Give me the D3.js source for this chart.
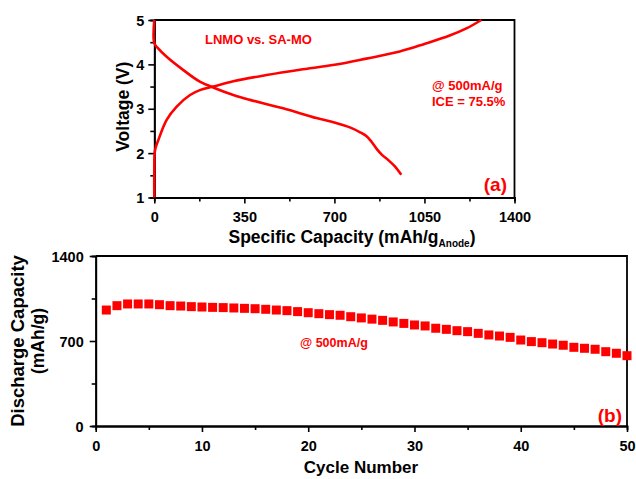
<!DOCTYPE html>
<html><head><meta charset="utf-8">
<script src="https://cdn.jsdelivr.net/npm/d3@7"></script>
<style>
html,body{margin:0;padding:0;background:#fff;}
svg text{font-family:"Liberation Sans",Arial,sans-serif;font-weight:bold;}
</style></head>
<body>
<svg id="c" width="636" height="479"></svg>
<script>
// ---- Panel (a) data: charge / discharge voltage profiles ----
const chargeCap = [0, 0, 3, 16, 48, 87, 139, 177, 229, 307, 436, 566, 701, 824, 954, 1050, 1148, 1213, 1271];
const chargeV   = [1.0, 1.6, 2.07, 2.3, 2.75, 3.05, 3.31, 3.42, 3.5, 3.62, 3.76, 3.88, 3.99, 4.13, 4.29, 4.46, 4.65, 4.81, 5.0];
const dischargeCap = [0, 0, 15, 48, 113, 177, 229, 307, 372, 501, 630, 700, 760, 800, 825, 845, 865, 885, 910, 935, 960];
const dischargeV   = [5.0, 4.48, 4.36, 4.17, 3.87, 3.61, 3.48, 3.31, 3.2, 3.01, 2.79, 2.69, 2.58, 2.47, 2.38, 2.25, 2.09, 1.96, 1.84, 1.70, 1.51];
const capTicks = [0, 350, 700, 1050, 1400];
const voltTicks = [1, 2, 3, 4, 5];

// ---- Panel (b) data: discharge capacity vs cycle ----
const cycles = d3.range(1, 51);
const dischargeCapacity = [955, 991, 1005, 1005, 1005, 999, 991, 988, 983, 980,
  977, 975, 972, 969, 966, 961, 955, 950, 942, 933,
  925, 917, 912, 900, 890, 880, 870, 857, 845, 832,
  824, 805, 796, 785, 777, 763, 750, 741, 730, 708,
  695, 686, 675, 665, 648, 640, 632, 612, 599, 579];
const cycleTicks = [0, 10, 20, 30, 40, 50];
const capYTicks = [0, 700, 1400];

const RED = "#ff0000";
const svg = d3.select("#c");

function styleAxis(g){
  g.select(".domain").attr("stroke","#000").attr("stroke-width",1.8);
  g.selectAll(".tick line").attr("stroke","#000").attr("stroke-width",1.6);
  g.selectAll("text").attr("fill","#000").style("font-size","14.5px").style("font-weight","bold");
}

// ===== Panel (a) =====
const A = {l:154.3, r:514.5, t:20, b:197.5};
const xa = d3.scaleLinear().domain([0,1400]).range([A.l, A.r]);
const ya = d3.scaleLinear().domain([1,5]).range([A.b, A.t]);
const ga = svg.append("g");

ga.append("path").attr("d",`M${A.l},${A.t}H${A.r}V${A.b}`).attr("fill","none").attr("stroke","#000").attr("stroke-width",1.8);

const gxaMinor = ga.append("g").attr("transform",`translate(0,${A.b})`)
  .call(d3.axisBottom(xa).tickValues(d3.range(175,1400,350)).tickSize(4).tickFormat(""));
styleAxis(gxaMinor);
const gxa = ga.append("g").attr("transform",`translate(0,${A.b})`)
  .call(d3.axisBottom(xa).tickValues(capTicks).tickSize(6).tickSizeOuter(0).tickPadding(8).tickFormat(d3.format("d")));
styleAxis(gxa);
const gyaMinor = ga.append("g").attr("transform",`translate(${A.l},0)`)
  .call(d3.axisLeft(ya).tickValues([1.5,2.5,3.5,4.5]).tickSize(4).tickFormat(""));
styleAxis(gyaMinor);
const gya = ga.append("g").attr("transform",`translate(${A.l},0)`)
  .call(d3.axisLeft(ya).tickValues(voltTicks).tickSize(6).tickSizeOuter(0).tickPadding(4).tickFormat(d3.format("d")));
styleAxis(gya);
gya.selectAll("text").attr("dy","0.36em");

const lineA = d3.line().x(d=>xa(d[0])).y(d=>ya(d[1])).curve(d3.curveCatmullRom.alpha(0.5));
ga.append("path").datum(chargeCap.map((c,i)=>[c,chargeV[i]]))
  .attr("d", lineA).attr("fill","none").attr("stroke",RED).attr("stroke-width",2.6);
ga.append("path").datum(dischargeCap.map((c,i)=>[c,dischargeV[i]]))
  .attr("d", lineA).attr("fill","none").attr("stroke",RED).attr("stroke-width",2.6);

ga.append("text").attr("x",205).attr("y",44).attr("fill",RED).style("font-size","13px").text("LNMO vs. SA-MO");
ga.append("text").attr("x",432).attr("y",90).attr("fill",RED).style("font-size","13px").text("@ 500mA/g");
ga.append("text").attr("x",432).attr("y",106).attr("fill",RED).style("font-size","13px").text("ICE = 75.5%");
ga.append("text").attr("x",507).attr("y",191).attr("text-anchor","end").attr("fill",RED).style("font-size","19px").text("(a)");

ga.append("text").attr("transform",`translate(129,${(A.t+A.b)/2 - 2}) rotate(-90)`)
  .attr("text-anchor","middle").style("font-size","17.5px").text("Voltage (V)");
const xt = ga.append("text").attr("x",352).attr("y",243).attr("text-anchor","middle").style("font-size","17.5px");
xt.append("tspan").text("Specific Capacity (mAh/g");
xt.append("tspan").attr("dy",4).style("font-size","10px").text("Anode");
xt.append("tspan").attr("dy",-4).text(")");

// ===== Panel (b) =====
const B = {l:95.7, r:627, t:256, b:426};
const xb = d3.scaleLinear().domain([0,50]).range([B.l, B.r]);
const yb = d3.scaleLinear().domain([0,1400]).range([B.b, B.t]);
const gb = svg.append("g");

gb.append("path").attr("d",`M${B.l},${B.t}H${B.r}V${B.b}`).attr("fill","none").attr("stroke","#000").attr("stroke-width",1.8);
const gxbMinor = gb.append("g").attr("transform",`translate(0,${B.b})`)
  .call(d3.axisBottom(xb).tickValues(d3.range(5,50,10)).tickSize(4).tickFormat(""));
styleAxis(gxbMinor);
const gxb = gb.append("g").attr("transform",`translate(0,${B.b})`)
  .call(d3.axisBottom(xb).tickValues(cycleTicks).tickSize(6).tickSizeOuter(0).tickPadding(9).tickFormat(d3.format("d")));
styleAxis(gxb);
const gybMinor = gb.append("g").attr("transform",`translate(${B.l},0)`)
  .call(d3.axisLeft(yb).tickValues([350,1050]).tickSize(4).tickFormat(""));
styleAxis(gybMinor);
const gyb = gb.append("g").attr("transform",`translate(${B.l},0)`)
  .call(d3.axisLeft(yb).tickValues(capYTicks).tickSize(6).tickSizeOuter(0).tickPadding(6).tickFormat(d3.format("d")));
styleAxis(gyb);
gyb.selectAll("text").attr("dy","0.36em");

const ms = 9;
gb.append("g").selectAll("rect").data(cycles.map((c,i)=>[c,dischargeCapacity[i]])).join("rect")
  .attr("x",d=>xb(d[0])-ms/2).attr("y",d=>yb(d[1])-ms/2).attr("width",ms).attr("height",ms).attr("fill",RED);

gb.append("text").attr("x",300).attr("y",347).attr("fill",RED).style("font-size","12.5px").text("@ 500mA/g");
gb.append("text").attr("x",622).attr("y",422).attr("text-anchor","end").attr("fill",RED).style("font-size","19px").text("(b)");

gb.append("text").attr("transform",`translate(24,${(B.t+B.b)/2}) rotate(-90)`)
  .attr("text-anchor","middle").style("font-size","18.5px").text("Discharge Capacity");
gb.append("text").attr("transform",`translate(44,${(B.t+B.b)/2}) rotate(-90)`)
  .attr("text-anchor","middle").style("font-size","17.5px").text("(mAh/g)");
gb.append("text").attr("x",361).attr("y",473).attr("text-anchor","middle").style("font-size","17px").text("Cycle Number");
</script>
</body></html>
